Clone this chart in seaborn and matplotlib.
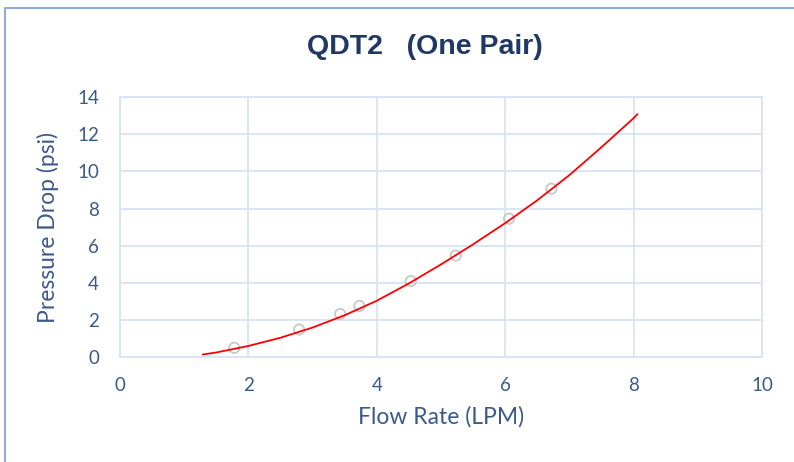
import pandas as pd
import matplotlib
matplotlib.use("Agg")
import matplotlib.pyplot as plt
from matplotlib.lines import Line2D
import seaborn as sns

# measured points (flow in LPM, pressure drop in psi)
flow = [1.78, 2.79, 3.43, 3.73, 4.53, 5.23, 6.06, 6.72]
pressure = [0.52, 1.50, 2.34, 2.77, 4.11, 5.48, 7.46, 9.07]

# trend line
trend_flow = [1.29, 1.5, 2.0, 2.5, 3.0, 3.5, 4.0, 4.5, 5.0, 5.5, 6.0, 6.5, 7.0, 7.5, 8.0, 8.06]
trend_pressure = [0.16, 0.27, 0.62, 1.06, 1.61, 2.27, 3.05, 3.98, 5.00, 6.08, 7.22, 8.45, 9.80, 11.30, 12.86, 13.08]

x_ticks = [0, 2, 4, 6, 8, 10]
y_ticks = [0, 2, 4, 6, 8, 10, 12, 14]

pts = pd.DataFrame({"flow": flow, "pressure": pressure})
trend = pd.DataFrame({"flow": trend_flow, "pressure": trend_pressure})

sns.set_style("white")
plt.rcParams["font.family"] = ["Lato", "DejaVu Sans"]

label_col = "#3B5A8A"
grid_col = "#D9E3F3"

fig = plt.figure(figsize=(7.94, 4.62), dpi=100)
ax = fig.add_axes([0.1511, 0.2262, 0.8086, 0.5639])

sns.scatterplot(data=pts, x="flow", y="pressure", ax=ax, marker="o", s=55,
                facecolor="none", edgecolor="#C8C8C8", linewidth=1.3, zorder=3)
sns.lineplot(data=trend, x="flow", y="pressure", ax=ax, color="#FF0000",
             linewidth=1.3, zorder=4)

ax.set_xlim(0, 10)
ax.set_ylim(0, 14)
ax.set_xticks(x_ticks)
ax.set_yticks(y_ticks)
ax.grid(True, color=grid_col, linewidth=1.3)
ax.set_axisbelow(True)
for s in ax.spines.values():
    s.set_color(grid_col)
    s.set_linewidth(1.3)
ax.tick_params(length=0, labelsize=13.5, labelcolor=label_col)
ax.tick_params(axis="x", pad=14)
ax.tick_params(axis="y", pad=15)

ax.set_xlabel("Flow Rate (LPM)", fontsize=16.5, color=label_col, labelpad=9)
ax.set_ylabel("Pressure Drop (psi)", fontsize=16.5, color=label_col, labelpad=13)

fig.text(425 / 794, 1 - 47 / 462, "QDT2   (One Pair)", ha="center", va="center",
         fontsize=20.5, fontweight="bold", color="#1F3864",
         family="Liberation Sans")

# outer chart frame (only top and left edges visible)
fx, fy = 5 / 794, 1 - 8 / 462
fig.add_artist(Line2D([fx, fx, 1.0], [0.0, fy, fy], transform=fig.transFigure,
                      color="#8FAADC", linewidth=1.5))

fig.savefig("out.png", dpi=100)
